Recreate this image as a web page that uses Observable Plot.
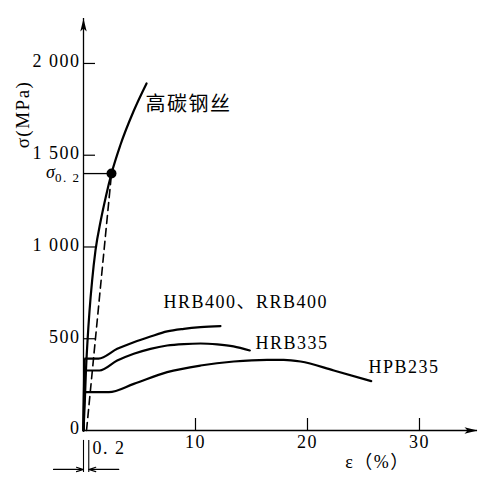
<!DOCTYPE html>
<html><head><meta charset="utf-8">
<script src="https://cdn.jsdelivr.net/npm/d3@7"></script>
<script src="https://cdn.jsdelivr.net/npm/@observablehq/plot@0.6"></script>
<style>body{margin:0;background:#fff}svg{display:block}</style>
</head><body><div id="chart"></div>
<script>
// strain ε (%) , stress σ (MPa)
const carbonWire = [[0,0],[0.12,163],[0.22,327],[0.36,490],[0.54,654],[0.77,817],[1.07,981],[1.54,1144],[2.02,1281],[2.5,1400],[3.28,1553],[4.46,1738],[5.63,1891]];
const offsetLine = [[0.27,0],[2.5,1400]];
const sigma02 = [2.5,1400];
const hrb400 = [[0,0],[0.1,392],[1.34,392],[3.01,445],[4.49,481],[5.98,512],[7.47,540],[8.96,554],[10.45,563],[12.23,569]];
const hrb335 = [[0,0],[0.1,327],[1.43,327],[3.01,381],[4.49,418],[5.98,445],[7.47,463],[8.96,471],[10.45,474],[11.94,469],[13.39,458],[14.85,436]];
const hpb235 = [[0,0],[0.1,209],[2.26,209],[4.49,254],[7.47,318],[10.45,354],[13.42,376],[16.4,385],[17.88,385],[19.38,376],[22.35,327],[25.69,269]];
const yTickVals = [0,500,1000,1500,2000];
const yTickLabels = ["0","500","1 000","1 500","2 000"];
const xTickVals = [10,20,30];
const xTickLabels = ["10","20","30"];
const curveLabels = [
  {x:7.14,y:697,text:"HRB400、RRB400"},
  {x:15.36,y:474,text:"HRB335"},
  {x:25.45,y:343,text:"HPB235"}
];
const carbonLabel = {x:5.54,y:1776,text:"高碳钢丝"};
const offsetValue = 0.47; // dimension line of 0.2% offset (as drawn)

const xMax = 35.18, yMax = 2245;
const pxX = 394/xMax, pxY = 412/yMax;
const serif = "'Liberation Serif', 'Times New Roman', 'Noto Sans CJK SC', serif";
const arrowHead = {draw(ctx){ctx.moveTo(0,0);ctx.lineTo(3.2,13);ctx.lineTo(0,10);ctx.lineTo(-3.2,13);ctx.closePath();}};

const curveOpts = {x:d=>d[0], y:d=>d[1], stroke:"black", strokeWidth:2.2, curve:"monotone-x"};

const chart = Plot.plot({
  width:496, height:480,
  marginLeft:83, marginRight:19, marginTop:18, marginBottom:50,
  x:{domain:[0,xMax], axis:null},
  y:{domain:[0,yMax], axis:null},
  style:{background:"white", overflow:"visible"},
  marks:[
    Plot.ruleY([0], {stroke:"black", strokeWidth:1.3}),
    Plot.ruleX([0], {stroke:"black", strokeWidth:1.3}),
    Plot.dot([[0,yMax]], {x:d=>d[0], y:d=>d[1], symbol:arrowHead, fill:"black", stroke:null}),
    Plot.dot([[xMax,0]], {x:d=>d[0], y:d=>d[1], symbol:arrowHead, rotate:90, fill:"black", stroke:null}),
    Plot.ruleY(yTickVals.filter(v=>v>0), {y:d=>d, x1:0, x2:12/pxX, stroke:"black", strokeWidth:1.2}),
    Plot.ruleX(xTickVals, {x:d=>d, y1:0, y2:12/pxY, stroke:"black", strokeWidth:1.2}),
    Plot.text(yTickVals, {x:0, y:d=>d, text:(d,i)=>yTickLabels[i], textAnchor:"end", dx:-3, dy:-2, fontFamily:serif, fontSize:18}),
    Plot.text(xTickVals, {x:d=>d, y:0, text:(d,i)=>xTickLabels[i], dy:12, fontFamily:serif, fontSize:18}),
    Plot.line(carbonWire, curveOpts),
    Plot.line(hrb400, curveOpts),
    Plot.line(hrb335, curveOpts),
    Plot.line(hpb235, curveOpts),
    Plot.line(offsetLine, {x:d=>d[0], y:d=>d[1], stroke:"black", strokeWidth:1.6, strokeDasharray:"8,5"}),
    Plot.ruleY([sigma02], {y:d=>d[1], x1:0, x2:d=>d[0], stroke:"black", strokeWidth:1.3}),
    Plot.dot([sigma02], {x:d=>d[0], y:d=>d[1], r:5, fill:"black"}),
    Plot.text([sigma02], {x:0, y:d=>d[1], text:()=>"σ", textAnchor:"end", dx:-27, dy:-1, fontFamily:serif, fontStyle:"italic", fontSize:18, ariaLabel:"sig"}),
    Plot.text([sigma02], {x:0, y:d=>d[1], text:()=>"0. 2", textAnchor:"end", dx:-3, dy:4, fontFamily:serif, fontSize:13, ariaLabel:"sub"}),
    Plot.text(curveLabels, {x:"x", y:"y", text:"text", textAnchor:"start", fontFamily:serif, fontSize:18}),
    Plot.text([carbonLabel], {x:"x", y:"y", text:"text", textAnchor:"start", fontFamily:"'Noto Sans CJK SC', sans-serif", fontSize:20, ariaLabel:"cjk"}),
    Plot.text([{x:-61/pxX, y:1722}], {x:"x", y:"y", text:()=>"σ(MPa)", rotate:-90, fontFamily:serif, fontSize:19}),
    Plot.text([{x:26.25, y:-174}], {x:"x", y:"y", text:()=>"ε（%）", fontFamily:serif, fontSize:18}),
    Plot.text([{x:0.8, y:-98}], {x:"x", y:"y", text:()=>"0. 2", textAnchor:"start", fontFamily:serif, fontSize:18}),
    Plot.ruleX([0, offsetValue], {x:d=>d, y1:-54, y2:-229, stroke:"black", strokeWidth:1.1}),
    Plot.arrow([{x1:-30/pxX, x2:0, y:-212}], {x1:"x1", x2:"x2", y1:"y", y2:"y", stroke:"black", strokeWidth:1.1, headLength:10, headAngle:35}),
    Plot.arrow([{x1:offsetValue+30/pxX, x2:offsetValue, y:-212}], {x1:"x1", x2:"x2", y1:"y", y2:"y", stroke:"black", strokeWidth:1.1, headLength:10, headAngle:35})
  ]
});
document.getElementById("chart").appendChild(chart);
const svg = d3.select(chart);
svg.selectAll("text").style("letter-spacing","1.5px").style("font-family", serif);
svg.selectAll('g[aria-label="cjk"] text').style("letter-spacing","2px").style("font-family","'Noto Sans CJK SC', sans-serif");
svg.selectAll('g[aria-label="sub"] text, g[aria-label="sig"] text').style("letter-spacing","0px");
</script></body></html>
